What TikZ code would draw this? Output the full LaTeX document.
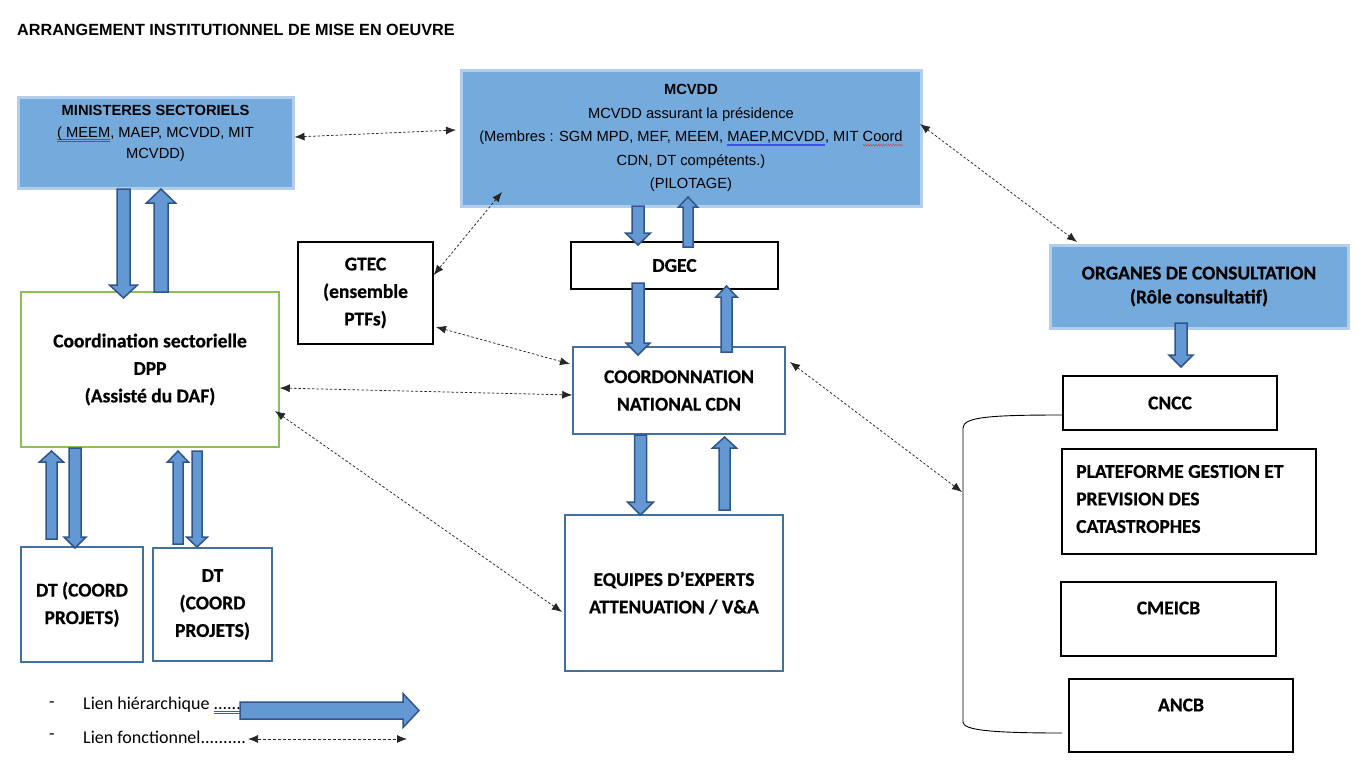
\documentclass[tikz,border=0pt]{standalone}
\usepackage{fontspec}
\setmainfont{Liberation Sans}
\newfontfamily\carl[BoldFeatures={FakeBold=0.6}]{Carlito}
\usepackage{graphicx}
\usetikzlibrary{arrows.meta,calc}
\definecolor{fillblue}{RGB}{117,170,220}
\definecolor{lightedge}{RGB}{178,206,236}
\definecolor{arrfill}{RGB}{99,152,210}
\definecolor{arredge}{RGB}{47,85,140}
\definecolor{boxblue}{RGB}{65,113,156}
\definecolor{boxgreen}{RGB}{140,192,84}
\definecolor{ulblue}{RGB}{60,80,230}
\definecolor{ulred}{RGB}{230,30,30}
\newsavebox\ulbox
\newcommand\dblu[1]{\sbox\ulbox{#1}\rlap{\textcolor{ulblue}{\rule[-2.4pt]{\wd\ulbox}{0.5pt}}}\rlap{\textcolor{ulblue}{\rule[-3.9pt]{\wd\ulbox}{0.5pt}}}\usebox\ulbox}
\newcommand\zzpiece{\rotatebox{45}{\rule{1.6pt}{0.45pt}}\kern-0.4pt\rotatebox{-45}{\rule{1.6pt}{0.45pt}}}
\newcommand\redw[1]{\sbox\ulbox{#1}\rlap{\raisebox{-3.6pt}{\textcolor{ulred}{\hbox to \wd\ulbox{\xleaders\hbox{\zzpiece}\hfill}}}}\usebox\ulbox}
\newcommand\carlb{\carl\bfseries\fontsize{19.5}{27.5}\selectfont}
\newcommand\carlr{\carl\fontsize{18}{22}\selectfont}
\newcommand\arialf{\fontsize{14.7}{23.5}\selectfont}
\newcommand\vblock[6]{\draw[harrow] (#1-#2,#4) -- (#1-#2,#5) -- (#1-#3,#5) -- (#1,#6) -- (#1+#3,#5) -- (#1+#2,#5) -- (#1+#2,#4) -- cycle;}
\newcommand\hblock[6]{\draw[harrow] (#4,#1-#2) -- (#5,#1-#2) -- (#5,#1-#3) -- (#6,#1) -- (#5,#1+#3) -- (#5,#1+#2) -- (#4,#1+#2) -- cycle;}
\begin{document}
\begin{tikzpicture}[x=1pt,y=-1pt,
  box/.style={draw, line width=1.5pt, inner sep=0pt, align=center, font=\carlb},
  bluebox/.style={box, fill=fillblue, draw=lightedge, line width=3pt},
  txt/.style={inner sep=0pt, align=center},
  harrow/.style={fill=arrfill, draw=arredge, line width=1.5pt, line join=miter},
  func/.style={{Latex[length=10pt,width=8pt]}-{Latex[length=10pt,width=8pt]}, line width=0.75pt, dash pattern=on 2.5pt off 2pt, black!85},
  bracket/.style={line width=0.9pt, black}]
\useasboundingbox (0,0) rectangle (1361,766);
\fill[white] (0,0) rectangle (1361,766);

% title
\node[txt, anchor=west, font=\bfseries\fontsize{16.2}{19}\selectfont] (title) at (17,30) {ARRANGEMENT INSTITUTIONNEL DE MISE EN OEUVRE};

% boxes
\node[bluebox, minimum width=275pt, minimum height=91pt] (mini) at (155.5,142.5) {};
\node[txt, font=\fontsize{14.7}{21.5}\selectfont] (minit) at (155.5,133.5) {{\bfseries MINISTERES SECTORIELS}\\\dblu{( MEEM}, MAEP, MCVDD, MIT\\MCVDD)};
\node[bluebox, minimum width=460pt, minimum height=136pt, font=\arialf] (mcvdd) at (691,138) {{\bfseries MCVDD}\\MCVDD assurant la présidence\\(Membres : SGM MPD, MEF, MEEM, \dblu{MAEP,MCVDD}, MIT \redw{Coord}\\CDN, DT compétents.)\\(PILOTAGE)};
\node[box, minimum width=135pt, minimum height=102pt] (gtec) at (365.5,293) {GTEC\\(ensemble\\PTFs)};
\node[box, minimum width=207pt, minimum height=47pt] (dgec) at (674.5,265.5) {DGEC};
\node[box, draw=boxgreen, minimum width=258pt, minimum height=155pt] (coord) at (150,369.5) {Coordination sectorielle\\DPP\\(Assisté du DAF)};
\node[box, draw=boxblue, minimum width=212pt, minimum height=87pt] (cdn) at (679,390.5) {COORDONNATION\\NATIONAL CDN};
\node[box, draw=boxblue, minimum width=218pt, minimum height=156pt] (equipes) at (674,593) {EQUIPES D’EXPERTS\\ATTENUATION / V\&A};
\node[box, draw=boxblue, minimum width=122pt, minimum height=115pt] (dt1) at (82,604.5) {DT (COORD\\PROJETS)};
\node[box, draw=boxblue, minimum width=119pt, minimum height=113pt] (dt2) at (212.5,604.5) {DT\\(COORD\\PROJETS)};
\node[bluebox, minimum width=298pt, minimum height=83pt, font=\carl\bfseries\fontsize{19.5}{24}\selectfont] (organes) at (1199,286.5) {ORGANES DE CONSULTATION\\(Rôle consultatif)};
\node[box, minimum width=214pt, minimum height=54pt] (cncc) at (1170,403) {CNCC};
\node[box, minimum width=254pt, minimum height=105pt] (plat) at (1189,501.5) {};
\node[txt, anchor=west, align=left, font=\carlb] (platt) at (1076,499) {PLATEFORME GESTION ET\\PREVISION DES\\CATASTROPHES};
\node[box, minimum width=215pt, minimum height=74pt] (cmeicb) at (1168.5,619) {};
\node[txt, font=\carlb] (cmeicbt) at (1168.5,608) {CMEICB};
\node[box, minimum width=224pt, minimum height=73pt] (ancb) at (1181,715.5) {};
\node[txt, font=\carlb] (ancbt) at (1181,705) {ANCB};

% bracket grouping the consultative bodies
\coordinate (brtop) at (1062,415);
\coordinate (brbot) at (1062,733);
\draw[bracket] (brtop) .. controls (990,415) and (963,417) .. (963,428) -- (963,722) .. controls (963,730) and (990,733) .. (brbot);

% hierarchical block arrows
\vblock{123.5}{6.5}{14}{189}{285}{298}
\vblock{161}{7}{14.5}{292}{203}{189}
\vblock{638}{6}{12.5}{206}{233}{245}
\vblock{688}{5}{9.5}{247}{207}{197}
\vblock{638}{6}{12}{283}{343}{355}
\vblock{726.5}{5.5}{10.5}{352}{297}{286}
\vblock{640.5}{6}{13}{435}{502}{515}
\vblock{724.5}{5.5}{12}{510}{448}{437}
\vblock{1181}{6}{12}{323}{355}{367}
\vblock{51.5}{5.5}{12}{539}{462}{451}
\vblock{75}{6}{11}{448}{537}{548}
\vblock{178}{5}{10.5}{544}{462}{451}
\vblock{197}{5}{10.5}{451}{537}{547}

% functional links
\coordinate (f2a) at (502,192);
\coordinate (f3a) at (436,327);
\coordinate (f3b) at (570,364);
\coordinate (f5a) at (275,411);
\coordinate (f5b) at (562,612);
\coordinate (f6a) at (920,124);
\coordinate (f6b) at (1077,242);
\coordinate (f7a) at (790,362);
\coordinate (f7b) at (962,492);
\draw[func] (mini.east |- 0,137) -- (456,130);
\draw[func] (f2a) -- (gtec.east |- 0,275);
\draw[func] (f3a) -- (f3b);
\draw[func] (coord.east |- 0,388) -- (cdn.west |- 0,395);
\draw[func] (f5a) -- (f5b);
\draw[func] (f6a) -- (f6b);
\draw[func] (f7a) -- (f7b);

% legend
\node[txt, font=\carlr] (d1) at (52,705) {-};
\node[txt, font=\carlr] (d2) at (52,737) {-};
\node[txt, anchor=west, font=\carlr] (lg1) at (83,705) {Lien hiérarchique \dblu{........}};
\node[txt, anchor=west, font=\carlr] (lg2) at (83,737) {Lien fonctionnel..........};
\hblock{710.5}{8.5}{17}{240}{403}{419}
\coordinate (lga) at (248,739);
\coordinate (lgb) at (407,739);
\draw[func, dash pattern=on 3pt off 2pt] (lga) -- (lgb);
\end{tikzpicture}
\end{document}
